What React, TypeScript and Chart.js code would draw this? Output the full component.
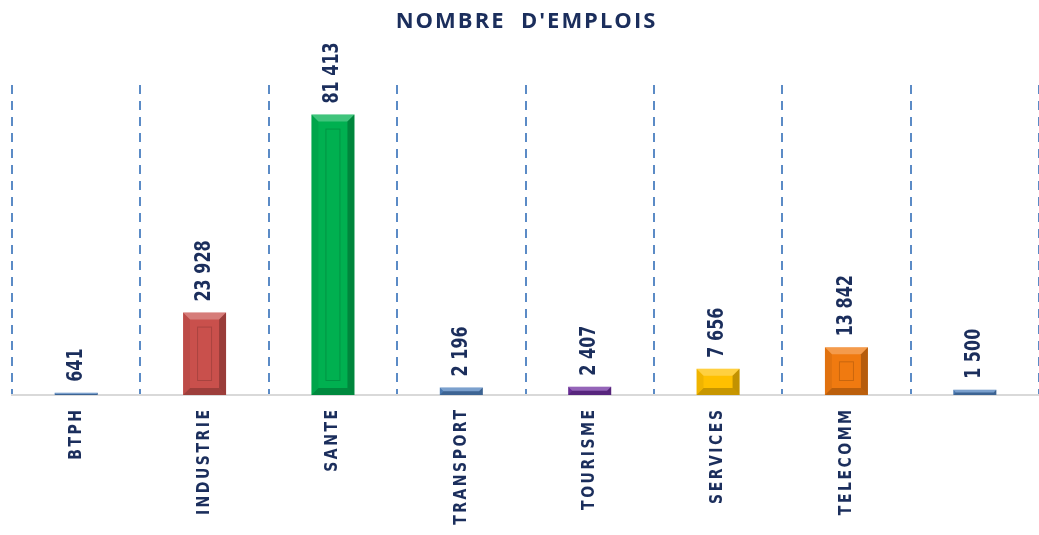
import React, { useEffect, useRef } from "react";
import { Chart, registerables } from "chart.js";

Chart.register(...registerables);

const categories = ["BTPH", "INDUSTRIE", "SANTE", "TRANSPORT", "TOURISME", "SERVICES", "TELECOMM", ""];
const values = [641, 23928, 81413, 2196, 2407, 7656, 13842, 1500];
const barColors = ["#4F81BD", "#C9504C", "#00B050", "#4F81BD", "#7030A0", "#FFC000", "#F07A10", "#4F81BD"];
const yMax = 90000;
const title = "NOMBRE  D'EMPLOIS";

const NAVY = "#1B2E5C";

function fmt(v: number): string {
  return String(v).replace(/\B(?=(\d{3})+(?!\d))/g, " ");
}

function poly(ctx: CanvasRenderingContext2D, pts: number[][], fill: string) {
  ctx.beginPath();
  ctx.moveTo(pts[0][0], pts[0][1]);
  for (let i = 1; i < pts.length; i++) ctx.lineTo(pts[i][0], pts[i][1]);
  ctx.closePath();
  ctx.fillStyle = fill;
  ctx.fill();
}

const decorPlugin = {
  id: "decor",
  afterDatasetsDraw(chart: any) {
    const ctx: CanvasRenderingContext2D = chart.ctx;
    const meta = chart.getDatasetMeta(0);
    const area = chart.chartArea;
    ctx.save();
    meta.data.forEach((bar: any, i: number) => {
      const { x, y, base, width } = bar.getProps(["x", "y", "base", "width"], true);
      const l = x - width / 2;
      const r = x + width / 2;
      const t = Math.min(y, base);
      const b = Math.max(y, base);
      const h = b - t;
      const e = Math.min(7, h / 2, width / 2);
      if (h > 0) {
        poly(ctx, [[l, t], [r, t], [r - e, t + e], [l + e, t + e]], "rgba(255,255,255,0.25)");
        poly(ctx, [[l, b], [r, b], [r - e, b - e], [l + e, b - e]], "rgba(0,0,0,0.22)");
        poly(ctx, [[l, t], [l + e, t + e], [l + e, b - e], [l, b]], "rgba(0,0,0,0.06)");
        poly(ctx, [[r, t], [r - e, t + e], [r - e, b - e], [r, b]], "rgba(0,0,0,0.24)");
        const fi = 14;
        if (h > 2 * fi + 4) {
          ctx.strokeStyle = "rgba(0,0,0,0.16)";
          ctx.lineWidth = 1;
          ctx.strokeRect(l + fi + 0.5, t + fi + 0.5, width - 2 * fi - 1, h - 2 * fi - 1);
        }
      }
      // value label
      ctx.save();
      ctx.translate(x, t - 11);
      ctx.scale(1.28, 1);
      ctx.rotate(-Math.PI / 2);
      ctx.font = "bold 16px 'DejaVu Sans'";
      ctx.fillStyle = NAVY;
      ctx.textAlign = "left";
      ctx.textBaseline = "middle";
      ctx.fillText(fmt(values[i]), 0, 0);
      ctx.restore();
      // category label
      const cat = categories[i];
      if (cat) {
        ctx.save();
        ctx.translate(x, area.bottom + 12.5);
        ctx.scale(1.2, 1);
        ctx.rotate(-Math.PI / 2);
        ctx.font = "bold 14px 'DejaVu Sans'";
        (ctx as any).letterSpacing = "2.5px";
        ctx.fillStyle = NAVY;
        ctx.textAlign = "right";
        ctx.textBaseline = "middle";
        ctx.fillText(cat, 0, 0);
        ctx.restore();
      }
    });
    // title
    ctx.save();
    ctx.font = "bold 22px 'Open Sans'";
    (ctx as any).letterSpacing = "2px";
    ctx.fillStyle = NAVY;
    ctx.textAlign = "center";
    ctx.textBaseline = "alphabetic";
    ctx.fillText(title, (area.left + area.right) / 2 + 1, 28);
    ctx.restore();
    ctx.restore();
  },
};

export default function App() {
  const ref = useRef<HTMLCanvasElement | null>(null);
  useEffect(() => {
    if (!ref.current) return;
    const chart = new Chart(ref.current, {
      type: "bar",
      data: {
        labels: categories,
        datasets: [
          {
            data: values,
            backgroundColor: barColors,
            borderWidth: 0,
            barPercentage: 0.335,
            categoryPercentage: 1,
          },
        ],
      },
      options: {
        responsive: false,
        animation: false,
        layout: { padding: { left: 12, right: 0, top: 85, bottom: 0 } },
        plugins: { legend: { display: false }, tooltip: { enabled: false }, title: { display: false } },
        scales: {
          x: {
            offset: true,
            grid: {
              offset: true,
              display: true,
              drawOnChartArea: true,
              drawTicks: false,
              color: "#5B8BC6",
              lineWidth: 2,
            },
            border: { display: true, color: "#D9D9D9", width: 2, dash: [9, 7] },
            ticks: { display: false },
            afterFit: (scale: any) => {
              scale.height = 140;
            },
          },
          y: {
            display: false,
            min: 0,
            max: yMax,
          },
        },
      },
      plugins: [decorPlugin],
    });
    return () => chart.destroy();
  }, []);
  return (
    <div style={{ position: "absolute", left: 0, top: 0, width: 1039, height: 535, background: "#fff" }}>
      <canvas ref={ref} width={1039} height={535} style={{ display: "block" }} />
    </div>
  );
}
